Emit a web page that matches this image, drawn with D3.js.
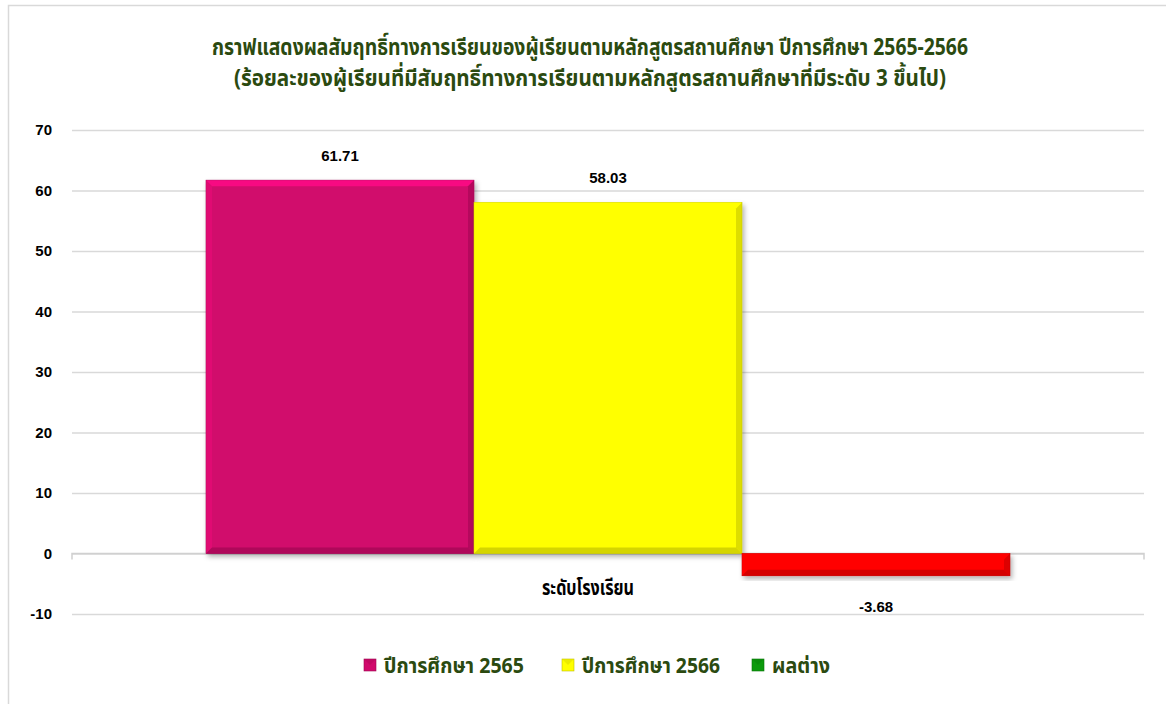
<!DOCTYPE html>
<html><head><meta charset="utf-8">
<script src="https://cdn.jsdelivr.net/npm/d3@7/dist/d3.min.js"></script>
<style>
body{margin:0;background:#fff;}
svg{display:block;}
</style></head>
<body><svg id="chart" width="1166" height="704"></svg>
<script>
const titleLines = ["กราฟแสดงผลสัมฤทธิ์ทางการเรียนของผู้เรียนตามหลักสูตรสถานศึกษา ปีการศึกษา 2565-2566",
                    "(ร้อยละของผู้เรียนที่มีสัมฤทธิ์ทางการเรียนตามหลักสูตรสถานศึกษาที่มีระดับ 3 ขึ้นไป)"];
const categories = ["ระดับโรงเรียน"];
const seriesNames = ["ปีการศึกษา 2565", "ปีการศึกษา 2566", "ผลต่าง"];
const values2565 = [61.71];
const values2566 = [58.03];
const valuesDiff = [-3.68];
const yTicks = [-10, 0, 10, 20, 30, 40, 50, 60, 70];

const seriesColors = ["#d1096c", "#ffff00", "#0c9a0c"];
const negColor = "#ff0000";
const thaiFont = "'Noto Sans Thai','Noto Sans Thai UI','Loma','Garuda','Noto Sans',sans-serif";
const numFont = "'Liberation Sans',Arial,sans-serif";
const fmtNum = v => d3.format(".2f")(v).replace("\u2212","-");
const fmtTick = v => d3.format("d")(v).replace("\u2212","-");

const svg = d3.select("#chart");
const defs = svg.append("defs");
const f = defs.append("filter").attr("id","shadow").attr("x","-10%").attr("y","-10%").attr("width","130%").attr("height","130%");
f.append("feDropShadow").attr("dx",2).attr("dy",3).attr("stdDeviation",2.5).attr("flood-color","#000").attr("flood-opacity",0.3);

svg.append("rect").attr("x",8.5).attr("y",5.5).attr("width",1170).attr("height",720)
  .attr("fill","none").attr("stroke","#d9d9d9").attr("stroke-width",1.5);

const y = d3.scaleLinear().domain([-10,70]).range([614,130]);
const x0 = d3.scaleBand().domain(categories).range([72,1144]).paddingInner(0.25).paddingOuter(0.125);
const x1 = d3.scaleBand().domain(seriesNames).range([0,x0.bandwidth()]).padding(0);

const yAxis = d3.axisLeft(y).tickValues(yTicks).tickSize(-(1144-72)).tickFormat(fmtTick).tickPadding(20);
const gy = svg.append("g").attr("transform","translate(72,0)").call(yAxis);
gy.select(".domain").remove();
gy.selectAll(".tick line").attr("stroke","#d9d9d9").attr("stroke-width",1.5);
gy.selectAll(".tick text").attr("font-family",numFont).attr("font-weight","bold").attr("font-size",15).attr("fill","#000");

const zeroY = y(0);
svg.append("path").attr("d",`M72,${zeroY+6}V${zeroY}H1144V${zeroY+6}`).attr("fill","none").attr("stroke","#d0d0d0").attr("stroke-width",1.5);

const data = categories.map((c,i)=>({cat:c, vals:[values2565[i], values2566[i], valuesDiff[i]]}));

function shade(col, k){ const c=d3.color(col); return k>0? c.brighter(k).formatHex(): c.darker(-k).formatHex(); }

data.forEach(d=>{
  const g = svg.append("g").attr("transform",`translate(${x0(d.cat)},0)`);
  d.vals.forEach((v,si)=>{
    const name = seriesNames[si];
    const col = (si===2 && v<0)? negColor : seriesColors[si];
    const bx = x1(name), bw = x1.bandwidth();
    const top = y(Math.max(0,v)), bot = y(Math.min(0,v));
    const bh = bot-top;
    const bg = g.append("g");
    bg.append("rect").attr("x",bx).attr("y",top).attr("width",bw).attr("height",bh)
      .attr("fill",col).attr("filter","url(#shadow)").attr("stroke",shade(col,-0.8)).attr("stroke-width",0.6);
    const b = Math.min(6, bh/2);
    bg.append("path").attr("d",`M${bx},${top}H${bx+bw}L${bx+bw-b},${top+b}H${bx+b}Z`).attr("fill",shade(col,0.6)).attr("opacity",0.85);
    bg.append("path").attr("d",`M${bx},${top}L${bx+b},${top+b}V${bot-b}L${bx},${bot}Z`).attr("fill",shade(col,0.3)).attr("opacity",0.6);
    bg.append("path").attr("d",`M${bx+bw},${top}L${bx+bw-b},${top+b}V${bot-b}L${bx+bw},${bot}Z`).attr("fill",shade(col,-0.6)).attr("opacity",0.7);
    bg.append("path").attr("d",`M${bx},${bot}L${bx+b},${bot-b}H${bx+bw-b}L${bx+bw},${bot}Z`).attr("fill",shade(col,-0.7)).attr("opacity",0.75);
    const ly = v>=0 ? y(v)-19 : y(v)+36;
    g.append("text").attr("x",bx+bw/2).attr("y",ly).attr("text-anchor","middle")
      .attr("font-family",numFont).attr("font-weight","bold").attr("font-size",15).attr("fill","#000")
      .text(fmtNum(v));
  });
});

svg.append("text").attr("x",588).attr("y",zeroY+41).attr("text-anchor","middle")
  .attr("font-family",thaiFont).attr("font-weight","bold").attr("font-size",21).attr("fill","#000")
  .attr("textLength",92).attr("lengthAdjust","spacingAndGlyphs").text(categories[0]);

titleLines.forEach((t,i)=>{
  svg.append("text").attr("x",590).attr("y",55+i*31).attr("text-anchor","middle")
    .attr("font-family",thaiFont).attr("font-weight","bold").attr("font-size",23).attr("fill","#2b4a10")
    .attr("textLength", i===0?756:712).attr("lengthAdjust","spacingAndGlyphs").text(t);
});

const legX = [364, 562, 752];
const legW = [140, 138, 58];
seriesNames.forEach((n,i)=>{
  const col = seriesColors[i];
  const lx = legX[i];
  svg.append("rect").attr("x",lx).attr("y",659).attr("width",12).attr("height",12).attr("fill",col).attr("stroke",shade(col,-0.8)).attr("stroke-width",0.6);
  svg.append("path").attr("d",`M${lx},659H${lx+12}L${lx+6},665Z`).attr("fill",shade(col,-0.4)).attr("opacity",0.6);
  svg.append("text").attr("x",lx+20).attr("y",673).attr("font-family",thaiFont).attr("font-weight","bold")
    .attr("font-size",21).attr("fill","#2b4a10").attr("textLength",legW[i]).attr("lengthAdjust","spacingAndGlyphs").text(n);
});
</script></body></html>
